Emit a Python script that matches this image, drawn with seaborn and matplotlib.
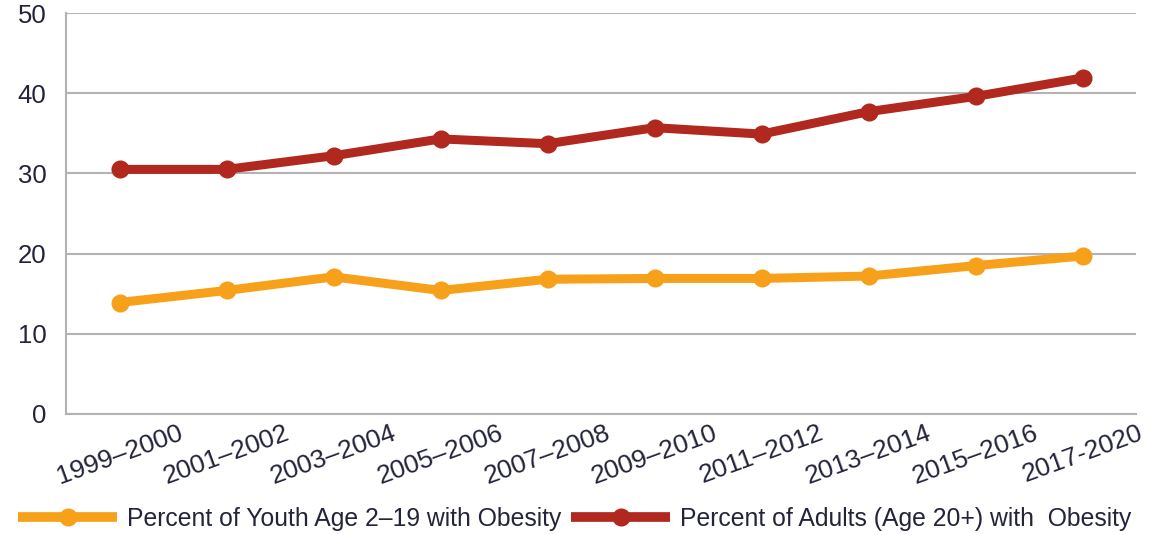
import matplotlib
matplotlib.use("Agg")
import matplotlib.pyplot as plt
from matplotlib.lines import Line2D
import seaborn as sns
import pandas as pd

periods = ["1999-2000", "2001-2002", "2003-2004", "2005-2006", "2007-2008",
           "2009-2010", "2011-2012", "2013-2014", "2015-2016", "2017-2020"]
tick_labels = ["1999\u20132000", "2001\u20132002", "2003\u20132004", "2005\u20132006",
               "2007\u20132008", "2009\u20132010", "2011\u20132012", "2013\u20132014",
               "2015\u20132016", "2017-2020"]
youth = [13.9, 15.4, 17.1, 15.4, 16.8, 16.9, 16.9, 17.2, 18.5, 19.7]
adults = [30.5, 30.5, 32.2, 34.3, 33.7, 35.7, 34.9, 37.7, 39.6, 41.9]

youth_label = "Percent of Youth Age 2\u201319 with Obesity"
adult_label = "Percent of Adults (Age 20+) with  Obesity"
youth_color = "#F7A11A"
adult_color = "#B0281E"
text_color = "#23233a"

df = pd.concat([
    pd.DataFrame({"period": periods, "value": youth, "series": youth_label}),
    pd.DataFrame({"period": periods, "value": adults, "series": adult_label}),
])
df["pos"] = df["period"].map({p: i for i, p in enumerate(periods)})

sns.set_style("white")
plt.rcParams["font.family"] = ["Liberation Sans", "DejaVu Sans"]

fig = plt.figure(figsize=(11.5, 5.35), dpi=100)
ax = fig.add_axes([0.0574, 0.2262, 0.9306, 0.7495])

palette = {youth_label: youth_color, adult_label: adult_color}
sns.lineplot(data=df, x="pos", y="value", hue="series", palette=palette,
             marker="o", markersize=13, linewidth=6.5, markeredgewidth=0,
             ax=ax, legend=False, zorder=3)

ax.set_xlim(-0.5, 9.5)
ax.set_ylim(0, 50)
ax.set_yticks([0, 10, 20, 30, 40, 50])
ax.set_xticks(range(len(periods)))
ax.set_xticklabels(tick_labels, rotation=20, ha="center", fontsize=19, color=text_color)
ax.tick_params(axis="y", labelsize=18.5, labelcolor=text_color, pad=14, length=0)
ax.tick_params(axis="x", length=0, pad=5)
ax.set_xlabel("")
ax.set_ylabel("")
ax.yaxis.grid(True, color="#b3b3b3", linewidth=1.5)
for s in ["top", "right"]:
    ax.spines[s].set_visible(False)
for s in ["left", "bottom"]:
    ax.spines[s].set_color("#b3b3b3")
    ax.spines[s].set_linewidth(1.5)

handles = [
    Line2D([], [], color=youth_color, linewidth=7, marker="o", markersize=13,
           markeredgewidth=0, solid_capstyle="butt"),
    Line2D([], [], color=adult_color, linewidth=7, marker="o", markersize=13,
           markeredgewidth=0, solid_capstyle="butt"),
]
fig.legend(handles, [youth_label, adult_label], loc="center",
           bbox_to_anchor=(0.5, 0.03), ncol=2, frameon=False, fontsize=17.8,
           handlelength=4.0, handletextpad=0.4, columnspacing=0.4,
           labelcolor=text_color, borderaxespad=0, borderpad=0)

fig.savefig("out.png", dpi=100)
